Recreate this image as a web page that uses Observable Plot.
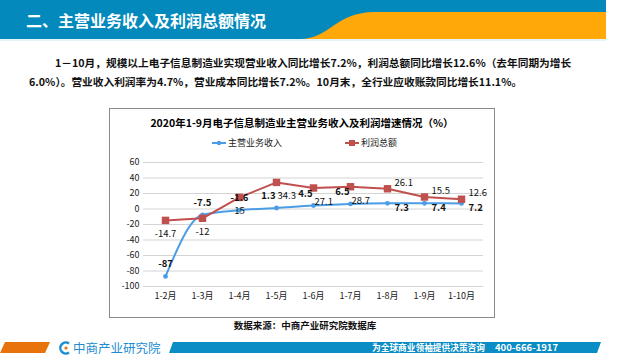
<!DOCTYPE html>
<html><head><meta charset="utf-8">
<script src="https://cdn.jsdelivr.net/npm/d3@7"></script>
<script src="https://cdn.jsdelivr.net/npm/@observablehq/plot@0.6"></script>
<style>
html,body{margin:0;padding:0;background:#fff;}
body{width:640px;height:360px;position:relative;overflow:hidden;font-family:"Noto Sans CJK SC","Noto Sans",sans-serif;}
.abs{position:absolute;white-space:nowrap;}
</style></head>
<body>
<svg class="abs" style="left:0;top:0" width="640" height="44">
  <rect x="0" y="0" width="606" height="39" fill="#0489BD"/>
  <path d="M300,39 C330,39 335,12 375,12 L606,12 L606,39 Z" fill="#FFA807"/>
  <line x1="0" y1="40" x2="606" y2="40" stroke="#cfe6f0" stroke-width="1"/>
</svg>
<div class="abs" style="left:26px;top:9px;font-size:16px;font-weight:bold;color:#fff;line-height:22px;">二、主营业务收入及利润总额情况</div>
<div class="abs" style="left:55px;top:55px;font-size:10.7px;font-weight:bold;color:#111;line-height:16px;">1－10月，规模以上电子信息制造业实现营业收入同比增长7.2%，利润总额同比增长12.6%（去年同期为增长</div>
<div class="abs" style="left:29px;top:74px;font-size:10.7px;font-weight:bold;color:#111;line-height:16px;">6.0%）。营业收入利润率为4.7%，营业成本同比增长7.2%。10月末，全行业应收账款同比增长11.1%。</div>

<div class="abs" style="left:109px;top:108px;width:386px;height:210px;box-sizing:border-box;border:1px solid #8a8a8a;"></div>
<div class="abs" id="ctitle" style="left:109px;width:386px;top:115px;text-align:center;font-size:10.5px;font-weight:bold;color:#000;line-height:15px;"></div>
<div class="abs" id="legend" style="top:135px;left:212px;font-size:9px;color:#222;line-height:14px;"></div>
<div class="abs" id="chart" style="left:109px;top:150px;"></div>
<div class="abs" id="source" style="left:0;width:610px;top:318px;text-align:center;font-size:9.5px;font-weight:bold;color:#111;line-height:14px;"></div>

<svg class="abs" style="left:0;top:340px" width="640" height="16">
  <polygon points="5,2 50,2 45,13 0,13" fill="#E8720C"/>
  <polygon points="173,2 601,2 597,13 169,13" fill="#0A8CC4"/>
  <path d="M69,3.5 A5.5,5.5 0 1 0 69,12.5" fill="none" stroke="#1B8DD0" stroke-width="2.4"/>
  <circle cx="66" cy="8" r="1.6" fill="#E8720C"/>
</svg>
<div class="abs" style="left:73px;top:340px;font-size:12.5px;color:#1B8DD0;line-height:16px;">中商产业研究院</div>
<div class="abs" style="left:372px;top:341px;font-size:8.7px;font-weight:bold;color:#fff;line-height:13px;">为全球商业领袖提供决策咨询</div>
<div class="abs" style="left:495px;top:341px;font-size:9.5px;font-weight:bold;color:#fff;line-height:13px;">400-666-1917</div>

<script>
const months = ["1-2月","1-3月","1-4月","1-5月","1-6月","1-7月","1-8月","1-9月","1-10月"];
const revenue = [-87, -7.5, -1.6, 1.3, 4.5, 6.5, 7.3, 7.4, 7.2];
const profit = [-14.7, -12, 15, 34.3, 27.1, 28.7, 26.1, 15.5, 12.6];
const yTicks = [60, 40, 20, 0, -20, -40, -60, -80, -100];
const seriesNames = ["主营业务收入", "利润总额"];
const chartTitle = "2020年1-9月电子信息制造业主营业务收入及利润增速情况（%）";
const sourceText = "数据来源：中商产业研究院数据库";

const blue = "#4A9DE6", red = "#C0504D";
const rows = [];
months.forEach((m, i) => {
  rows.push({month: m, idx: i, series: seriesNames[0], value: revenue[i]});
  rows.push({month: m, idx: i, series: seriesNames[1], value: profit[i]});
});
const rev = rows.filter(d => d.series === seriesNames[0]);
const pro = rows.filter(d => d.series === seriesNames[1]);
// label placement groups
const first = d => d.idx < 3, crowded = d => d.idx >= 3 && d.idx < 6, late = d => d.idx >= 6;
const fmt = d => String(d.value);

document.getElementById("ctitle").textContent = chartTitle;
document.getElementById("source").textContent = sourceText;
document.getElementById("legend").innerHTML =
  `<svg width="14" height="8" style="vertical-align:middle"><line x1="0" y1="4" x2="14" y2="4" stroke="${blue}" stroke-width="2"/><circle cx="7" cy="4" r="2.2" fill="${blue}"/></svg> <span style="vertical-align:middle">${seriesNames[0]}</span>` +
  `<span style="display:inline-block;width:63px"></span>` +
  `<svg width="14" height="8" style="vertical-align:middle"><line x1="0" y1="4" x2="14" y2="4" stroke="${red}" stroke-width="2"/><rect x="4" y="1" width="6" height="6" fill="${red}"/></svg> <span style="vertical-align:middle">${seriesNames[1]}</span>`;

const font = '"Noto Sans CJK SC","Noto Sans",sans-serif';
const lbl = {fontSize: 9.5, fill: "#111"};
const chart = Plot.plot({
  width: 386,
  height: 160,
  marginTop: 12,
  marginBottom: 24,
  marginLeft: 34,
  marginRight: 12,
  style: {fontFamily: font, fontSize: "9px", background: "transparent", color: "#222"},
  x: {domain: months, type: "point", padding: 0.5, label: null, tickSize: 0, tickPadding: 6},
  y: {domain: [-100, 60], ticks: yTicks, label: null, tickSize: 0, tickPadding: 4, tickFormat: d => String(d)},
  marks: [
    Plot.gridY(yTicks, {stroke: "#d4d4d4", strokeOpacity: 1, strokeWidth: 1}),
    Plot.line(rev, {x: "month", y: "value", stroke: blue, strokeWidth: 2, curve: "monotone-x"}),
    Plot.line(pro, {x: "month", y: "value", stroke: red, strokeWidth: 2}),
    Plot.dot(rev, {x: "month", y: "value", r: 2.4, fill: blue, stroke: null}),
    Plot.dot(pro, {x: "month", y: "value", symbol: "square", r: 4.2, fill: red, stroke: null}),
    Plot.text(rev, {filter: first, x: "month", y: "value", text: fmt, dy: -12, fontWeight: "bold", ...lbl}),
    Plot.text(pro, {filter: first, x: "month", y: "value", text: fmt, dy: 14, ...lbl}),
    Plot.text(rev, {filter: crowded, x: "month", y: "value", text: fmt, dy: -12, dx: -1, textAnchor: "end", fontWeight: "bold", ...lbl}),
    Plot.text(pro, {filter: crowded, x: "month", y: "value", text: fmt, dy: 14, dx: 1, textAnchor: "start", ...lbl}),
    Plot.text(rev, {filter: late, x: "month", y: "value", text: fmt, dx: 7, dy: 5, textAnchor: "start", fontWeight: "bold", ...lbl}),
    Plot.text(pro, {filter: late, x: "month", y: "value", text: fmt, dx: 7, dy: -6, textAnchor: "start", ...lbl})
  ]
});
document.getElementById("chart").appendChild(chart);
</script>
</body></html>
